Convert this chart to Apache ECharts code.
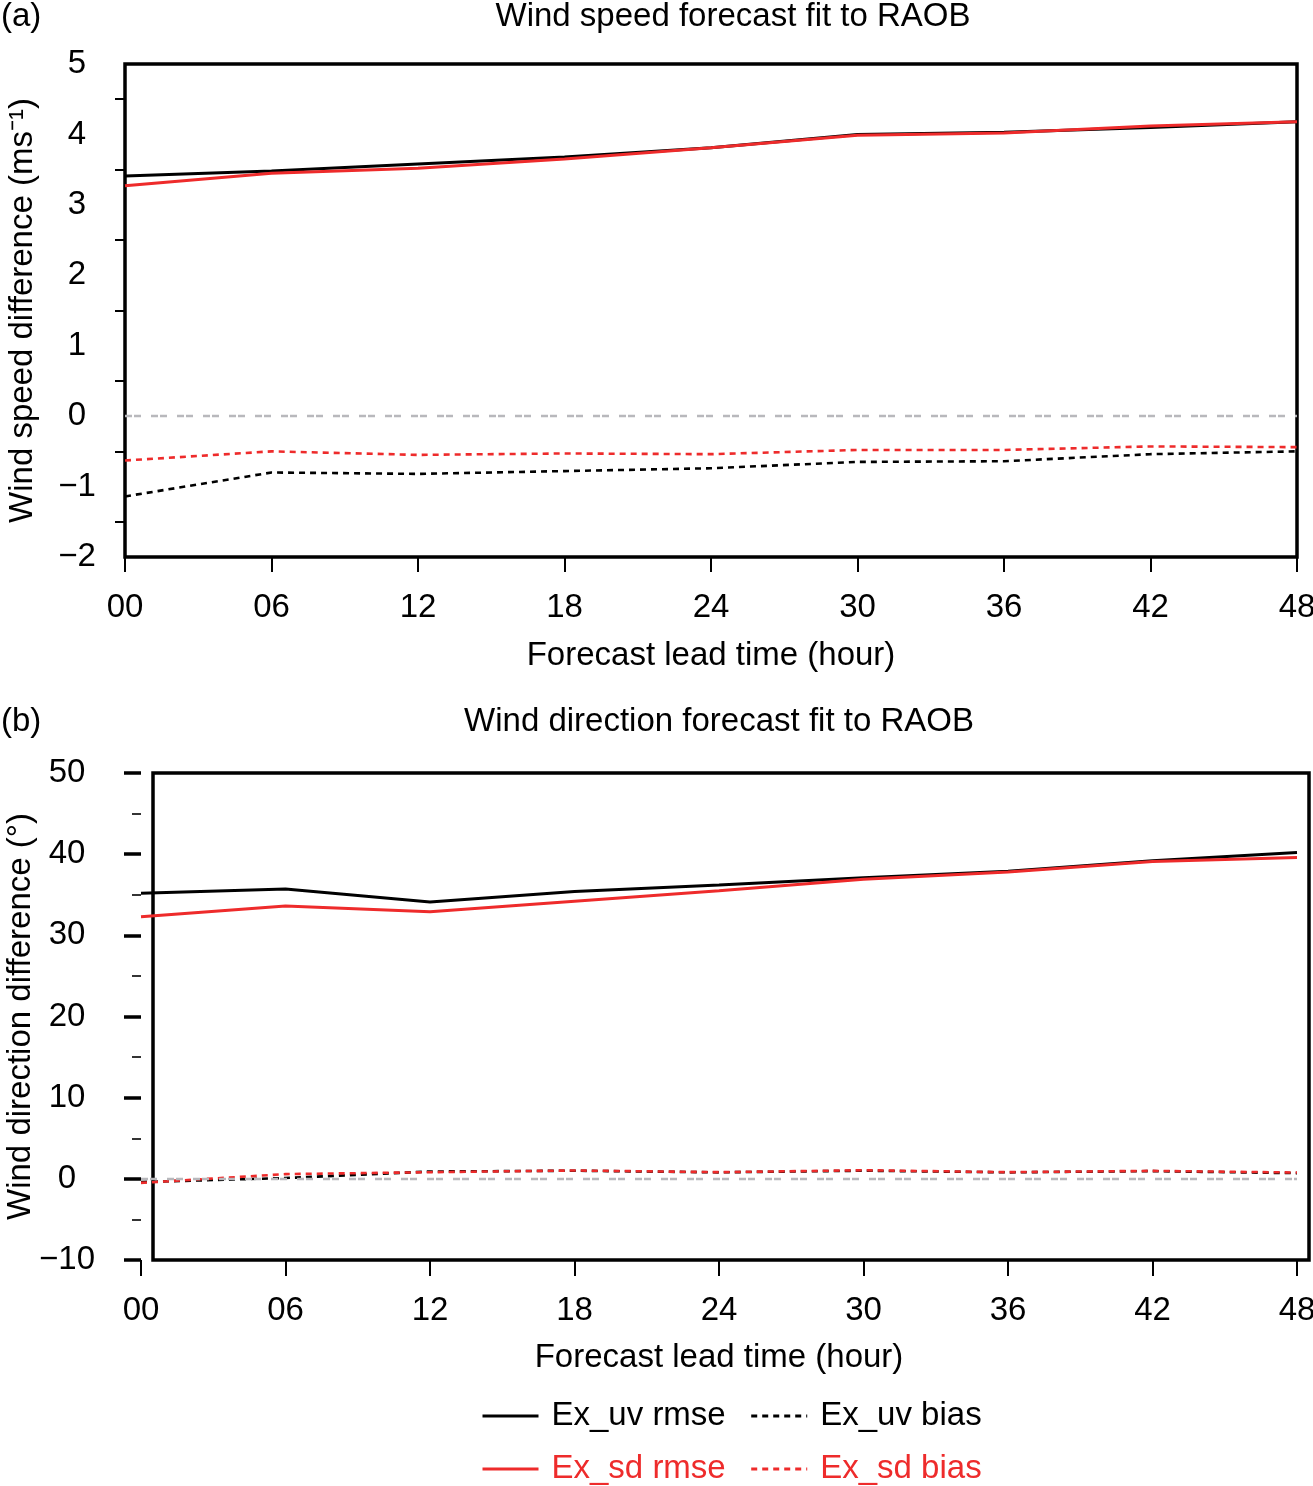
<!DOCTYPE html>
<html>
<head>
    <meta charset="utf-8">
    <title>Wind forecast fit to RAOB</title>
    <script src="https://cdn.jsdelivr.net/npm/echarts@6.0.0/dist/echarts.min.js"></script>
</head>
<body>
<style>
    html, body, #main {
        width: 100%;
        height: 100%;
        padding: 0;
        margin: 0;
        background: #fff;
    }
</style>
<div id="main"></div>
<script type="text/javascript">
    // forecast lead times (x tick labels)
    var hours = ['00', '06', '12', '18', '24', '30', '36', '42', '48'];

    // (a) wind speed difference, m/s
    var speedUvRmse = [3.41, 3.48, 3.58, 3.68, 3.81, 4.00, 4.03, 4.10, 4.18];
    var speedSdRmse = [3.27, 3.45, 3.52, 3.65, 3.81, 3.99, 4.02, 4.12, 4.18];
    var speedUvBias = [-1.14, -0.80, -0.82, -0.78, -0.74, -0.65, -0.64, -0.54, -0.50];
    var speedSdBias = [-0.63, -0.50, -0.55, -0.53, -0.54, -0.48, -0.48, -0.43, -0.44];

    // (b) wind direction difference, degrees
    var dirUvRmse = [35.2, 35.7, 34.1, 35.4, 36.2, 37.1, 37.9, 39.2, 40.2];
    var dirSdRmse = [32.3, 33.6, 32.9, 34.2, 35.5, 36.9, 37.8, 39.1, 39.6];
    var dirUvBias = [-0.4, 0.1, 0.9, 1.0, 0.8, 1.0, 0.8, 0.95, 0.7];
    var dirSdBias = [-0.5, 0.58, 0.82, 1.03, 0.82, 1.06, 0.82, 0.98, 0.78];

    var FONT = 'Liberation Sans';
    var FS = 33;
    var BLACK = '#000000';
    var RED = '#ee2b2b';
    var GRAY = '#b8b8bc';
    var biasDash = [6, 5];

    function minus(v) {
        return v < 0 ? '\u2212' + Math.abs(v) : String(v);
    }

    var myChart = echarts.init(document.getElementById('main'));

    window.onresize = function () {
        myChart.resize();
    };

    function makeSeries(name, data, color, dashed, axisIdx, withZero) {
        var s = {
            name: name,
            type: 'line',
            xAxisIndex: axisIdx,
            yAxisIndex: axisIdx,
            data: data,
            symbol: 'none',
            silent: true,
            animation: false,
            lineStyle: {
                color: color,
                width: dashed ? 2.6 : 3,
                type: dashed ? biasDash : 'solid'
            },
            itemStyle: {color: color}
        };
        if (withZero) {
            s.markLine = {
                silent: true,
                symbol: 'none',
                label: {show: false},
                lineStyle: {color: GRAY, width: 2.4, type: [7, 2, 7, 10]},
                data: [{yAxis: 0}]
            };
        }
        return s;
    }

    var titleStyle = {fontFamily: FONT, fontSize: FS, fontWeight: 'normal', color: BLACK};
    var txt = {fontFamily: FONT, fontSize: FS, color: BLACK};
    // legend symbol is hidden, only the line sample stays
    var noDot = {color: 'transparent', borderColor: 'transparent', borderWidth: 0, opacity: 0};

    myChart.setOption({
        backgroundColor: '#fff',
        textStyle: {fontFamily: FONT},
        title: [
            {text: '(a)', left: -4, top: -5, textStyle: titleStyle},
            {text: 'Wind speed forecast fit to RAOB', left: 728, top: -5, textAlign: 'center', textStyle: titleStyle},
            {text: '(b)', left: -4, top: 700, textStyle: titleStyle},
            {text: 'Wind direction forecast fit to RAOB', left: 714, top: 700, textAlign: 'center', textStyle: titleStyle}
        ],
        legend: [
            {
                data: ['Ex_uv rmse', 'Ex_uv bias'],
                left: 476, top: 1393,
                itemWidth: 56, itemHeight: 14, itemGap: 24,
                selectedMode: false,
                itemStyle: noDot,
                lineStyle: {width: 3},
                textStyle: {fontFamily: FONT, fontSize: FS, color: BLACK, lineHeight: 36, padding: [0, 0, 0, 8]}
            },
            {
                data: ['Ex_sd rmse', 'Ex_sd bias'],
                left: 476, top: 1446,
                itemWidth: 56, itemHeight: 14, itemGap: 24,
                selectedMode: false,
                itemStyle: noDot,
                lineStyle: {width: 3},
                textStyle: {fontFamily: FONT, fontSize: FS, color: RED, lineHeight: 36, padding: [0, 0, 0, 8]}
            }
        ],
        grid: [
            // (a) plot box
            {left: 125, right: 16, top: 64, bottom: 929, outerBoundsMode: 'none',
                show: true, borderColor: BLACK, borderWidth: 3.5, backgroundColor: 'transparent'},
            // (b) data area (axes sit outside the box)
            {left: 141, right: 16, top: 773, bottom: 226, outerBoundsMode: 'none'},
            // (b) plot box, shifted right
            {left: 153, right: 4, top: 773, bottom: 226, outerBoundsMode: 'none',
                show: true, borderColor: BLACK, borderWidth: 3.5, backgroundColor: 'transparent'}
        ],
        xAxis: [
            {
                gridIndex: 0, type: 'category', data: hours, boundaryGap: false,
                name: 'Forecast lead time (hour)', nameLocation: 'middle', nameGap: 82,
                nameTextStyle: txt,
                axisLine: {show: false, onZero: false},
                axisTick: {show: true, length: 15, alignWithLabel: true, lineStyle: {color: BLACK, width: 2}},
                axisLabel: {fontFamily: FONT, fontSize: FS, color: BLACK, margin: 34, interval: 0},
                splitLine: {show: false}
            },
            {
                gridIndex: 1, type: 'category', data: hours, boundaryGap: false,
                name: 'Forecast lead time (hour)', nameLocation: 'middle', nameGap: 81,
                nameTextStyle: txt,
                axisLine: {show: false, onZero: false},
                axisTick: {show: true, length: 16, alignWithLabel: true, lineStyle: {color: BLACK, width: 2}},
                axisLabel: {fontFamily: FONT, fontSize: FS, color: BLACK, margin: 34, interval: 0},
                splitLine: {show: false}
            },
            {gridIndex: 2, type: 'value', show: false, min: 0, max: 1}
        ],
        yAxis: [
            {
                gridIndex: 0, type: 'value', min: -2, max: 5, interval: 1,
                name: 'Wind speed difference (ms\u207B\u00B9)', nameLocation: 'middle', nameGap: 86, nameRotate: 90,
                nameMoveOverlap: false,
                nameTextStyle: txt,
                axisLine: {show: false, onZero: false},
                axisTick: {show: false},
                minorTick: {show: true, splitNumber: 2, length: 10, lineStyle: {color: BLACK, width: 2}},
                axisLabel: {fontFamily: FONT, fontSize: FS, color: BLACK, margin: 48, align: 'center', formatter: minus},
                splitLine: {show: false}
            },
            {
                gridIndex: 1, type: 'value', min: -10, max: 50, interval: 10,
                name: 'Wind direction difference (\u00B0)', nameLocation: 'middle', nameGap: 104, nameRotate: 90,
                nameMoveOverlap: false,
                nameTextStyle: txt,
                axisLine: {show: false, onZero: false},
                axisTick: {show: true, length: 17, lineStyle: {color: BLACK, width: 3.5}},
                minorTick: {show: true, splitNumber: 2, length: 9, lineStyle: {color: BLACK, width: 1.6}},
                axisLabel: {fontFamily: FONT, fontSize: FS, color: BLACK, margin: 74, align: 'center', formatter: minus},
                splitLine: {show: false}
            },
            {gridIndex: 2, type: 'value', show: false, min: 0, max: 1}
        ],
        series: [
            makeSeries('Ex_uv rmse', speedUvRmse, BLACK, false, 0, true),
            makeSeries('Ex_uv bias', speedUvBias, BLACK, true, 0, false),
            makeSeries('Ex_sd rmse', speedSdRmse, RED, false, 0, false),
            makeSeries('Ex_sd bias', speedSdBias, RED, true, 0, false),
            makeSeries('Ex_uv rmse', dirUvRmse, BLACK, false, 1, true),
            makeSeries('Ex_uv bias', dirUvBias, BLACK, true, 1, false),
            makeSeries('Ex_sd rmse', dirSdRmse, RED, false, 1, false),
            makeSeries('Ex_sd bias', dirSdBias, RED, true, 1, false)
        ]
    });
</script>
</body>
</html>
